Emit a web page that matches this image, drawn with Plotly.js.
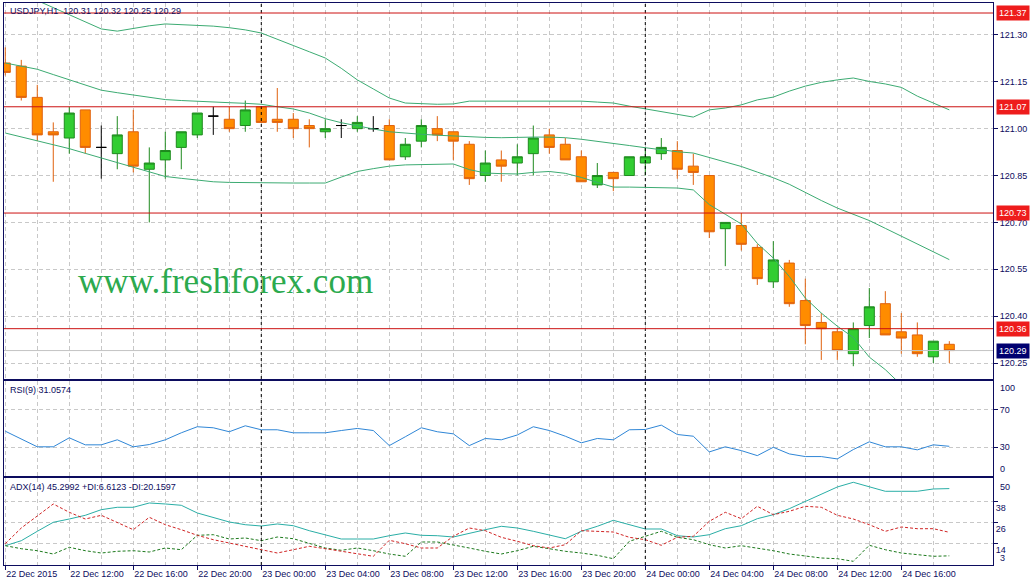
<!DOCTYPE html>
<html>
<head>
<meta charset="utf-8">
<script src="https://cdn.plot.ly/plotly-3.0.1.min.js"></script>
<style>
  html, body { margin: 0; padding: 0; background: #ffffff; }
  #plotly { width: 1035px; height: 581px; }
</style>
</head>
<body>
<div id="plotly"></div>
<script>
// USDJPY H1, one value per hourly bar (22 Dec 08:00 .. 24 Dec 19:00)
var symbol = 'USDJPY,H1';
var openData  = [121.21, 121.20, 121.10, 120.99, 120.97, 121.06, 120.94, 120.92, 120.99, 120.87,
                 120.90, 120.94, 120.98, 121.04, 121.03, 121.01, 121.07, 121.03, 121.03, 121.01,
                 120.99, 121.01, 121.00, 121.00, 121.01, 120.91, 120.96, 121.00, 120.99, 120.95,
                 120.85, 120.90, 120.89, 120.92, 120.98, 120.95, 120.91, 120.82, 120.86, 120.85,
                 120.89, 120.92, 120.93, 120.88, 120.85, 120.68, 120.69, 120.62, 120.51, 120.57,
                 120.45, 120.38, 120.35, 120.28, 120.37, 120.44, 120.35, 120.34, 120.27, 120.31];
var highData  = [121.26, 121.22, 121.14, 121.02, 121.07, 121.06, 121.01, 121.04, 121.06, 120.94,
                 120.99, 120.99, 121.05, 121.07, 121.07, 121.09, 121.07, 121.13, 121.05, 121.03,
                 121.03, 121.03, 121.04, 121.04, 121.03, 120.97, 121.03, 121.04, 120.99, 120.96,
                 120.93, 120.93, 120.95, 121.01, 121.00, 120.97, 120.93, 120.89, 120.86, 120.91,
                 120.94, 120.97, 120.96, 120.92, 120.85, 120.70, 120.73, 120.63, 120.64, 120.58,
                 120.52, 120.41, 120.36, 120.38, 120.49, 120.48, 120.41, 120.38, 120.32, 120.32];
var lowData   = [121.17, 121.09, 120.96, 120.83, 120.92, 120.92, 120.84, 120.87, 120.86, 120.70,
                 120.84, 120.87, 120.97, 120.98, 120.99, 120.99, 121.02, 120.99, 120.97, 120.94,
                 120.97, 120.97, 120.99, 120.99, 120.90, 120.90, 120.94, 120.96, 120.90, 120.82,
                 120.83, 120.83, 120.85, 120.85, 120.92, 120.90, 120.83, 120.81, 120.80, 120.85,
                 120.85, 120.90, 120.84, 120.82, 120.65, 120.56, 120.61, 120.50, 120.49, 120.43,
                 120.31, 120.26, 120.26, 120.24, 120.33, 120.34, 120.28, 120.27, 120.25, 120.25];
var closeData = [121.18, 121.10, 120.98, 120.98, 121.05, 120.94, 120.94, 120.98, 120.88, 120.89,
                 120.93, 120.99, 121.05, 121.04, 121.00, 121.06, 121.02, 121.02, 121.00, 121.00,
                 121.00, 121.01, 121.02, 121.00, 120.90, 120.95, 121.01, 120.98, 120.96, 120.84,
                 120.89, 120.88, 120.91, 120.97, 120.94, 120.90, 120.83, 120.85, 120.84, 120.91,
                 120.91, 120.94, 120.87, 120.86, 120.67, 120.70, 120.63, 120.52, 120.58, 120.44,
                 120.37, 120.36, 120.29, 120.36, 120.43, 120.34, 120.33, 120.28, 120.32, 120.29];

// Bollinger bands
var bbUpper  = [121.460, 121.430, 121.410, 121.387, 121.364, 121.340, 121.319, 121.312, 121.321, 121.329,
                121.335, 121.333, 121.332, 121.328, 121.323, 121.316, 121.306, 121.285, 121.266, 121.246,
                121.226, 121.193, 121.156, 121.127, 121.098, 121.082, 121.080, 121.078, 121.079, 121.088,
                121.088, 121.088, 121.088, 121.088, 121.088, 121.088, 121.088, 121.085, 121.082, 121.072,
                121.063, 121.053, 121.045, 121.037, 121.060, 121.066, 121.076, 121.092, 121.101, 121.120,
                121.136, 121.148, 121.156, 121.162, 121.151, 121.143, 121.132, 121.104, 121.082, 121.060];
var bbMiddle = [121.210, 121.201, 121.190, 121.173, 121.156, 121.139, 121.123, 121.115, 121.108, 121.100,
                121.093, 121.090, 121.087, 121.085, 121.083, 121.081, 121.078, 121.070, 121.063, 121.050,
                121.032, 121.019, 121.008, 120.999, 120.990, 120.985, 120.982, 120.979, 120.976, 120.974,
                120.972, 120.971, 120.973, 120.973, 120.973, 120.971, 120.966, 120.960, 120.954, 120.946,
                120.939, 120.932, 120.926, 120.922, 120.908, 120.894, 120.879, 120.861, 120.843, 120.822,
                120.795, 120.770, 120.746, 120.725, 120.706, 120.681, 120.656, 120.631, 120.606, 120.581];
var bbLower  = [120.986, 120.974, 120.961, 120.949, 120.936, 120.921, 120.906, 120.891, 120.877, 120.862,
                120.847, 120.841, 120.836, 120.830, 120.828, 120.827, 120.826, 120.826, 120.826, 120.826,
                120.826, 120.845, 120.863, 120.872, 120.880, 120.884, 120.885, 120.886, 120.887, 120.869,
                120.858, 120.856, 120.855, 120.860, 120.863, 120.857, 120.844, 120.828, 120.813, 120.813,
                120.812, 120.811, 120.810, 120.804, 120.757, 120.726, 120.695, 120.633, 120.586, 120.527,
                120.458, 120.410, 120.368, 120.332, 120.269, 120.229, 120.180, 120.158, 120.130, 120.102];

// RSI(9)
var rsiData = [47.0, 38.9, 30.5, 30.5, 40.0, 32.6, 32.6, 37.9, 30.5, 32.9,
               37.9, 45.3, 51.7, 50.6, 46.4, 52.7, 48.5, 48.5, 45.3, 45.3,
               45.3, 47.7, 49.9, 47.7, 31.8, 41.1, 50.6, 46.4, 44.2, 31.8,
               39.3, 37.9, 43.0, 51.7, 47.7, 41.7, 34.7, 39.3, 37.9, 48.5,
               48.8, 53.4, 43.5, 41.7, 25.1, 30.5, 26.5, 21.2, 30.0, 23.0,
               20.2, 20.2, 17.7, 27.6, 35.8, 30.5, 30.5, 27.3, 32.6, 31.0574];

// ADX(14) with +DI / -DI
var adxData = [12.45, 15.32, 20.73, 25.91, 27.81, 29.94, 33.17, 34.55, 34.55, 37.02,
               36.45, 35.70, 31.27, 28.79, 26.09, 24.53, 23.78, 24.94, 23.96, 21.08,
               18.78, 16.30, 16.30, 16.30, 18.20, 19.76, 18.43, 18.20, 17.45, 19.76,
               21.65, 23.61, 22.63, 20.73, 18.43, 16.47, 20.73, 23.61, 27.06, 24.53,
               22.06, 22.06, 18.20, 17.45, 18.78, 22.23, 23.96, 27.99, 30.29, 33.74,
               38.00, 42.20, 46.23, 48.94, 46.23, 43.76, 43.76, 43.76, 45.08, 45.2992];
var plusDI  = [12.45, 10.72, 9.57, 7.67, 11.53, 9.57, 8.24, 9.22, 9.57, 8.82,
               11.12, 10.14, 18.43, 18.78, 16.30, 16.88, 15.32, 17.45, 16.47, 14.00,
               11.12, 9.80, 11.12, 9.57, 7.67, 6.35, 14.58, 14.58, 13.02, 11.12,
               9.22, 7.67, 9.57, 12.10, 10.72, 9.22, 8.24, 6.92, 4.96, 14.98,
               17.86, 20.73, 17.28, 15.90, 13.02, 11.12, 12.45, 11.12, 9.57, 7.67,
               6.35, 5.37, 4.96, 3.47, 12.68, 10.14, 8.24, 7.27, 6.35, 6.6123];
var minusDI = [13.60, 22.63, 29.54, 36.45, 31.67, 27.81, 29.94, 25.91, 21.65, 28.79,
               24.53, 21.65, 18.43, 15.90, 14.00, 12.10, 10.14, 8.24, 10.14, 12.10,
               10.72, 9.22, 7.67, 6.35, 15.55, 13.60, 11.12, 11.12, 17.86, 22.63,
               21.08, 17.28, 14.98, 12.45, 11.12, 13.02, 21.08, 20.73, 20.33, 17.28,
               15.90, 12.68, 17.28, 17.86, 26.49, 31.67, 27.99, 35.12, 30.29, 32.24,
               35.12, 34.55, 29.94, 27.81, 24.53, 20.73, 23.21, 22.23, 22.23, 20.1597];

// time axis labels (bar index -> label)
var xTickBars = [0, 4, 8, 12, 16, 20, 24, 28, 32, 36, 40, 44, 48, 52, 56];
var xTickText = ['22 Dec 2015', '22 Dec 12:00', '22 Dec 16:00', '22 Dec 20:00', '23 Dec 00:00',
                 '23 Dec 04:00', '23 Dec 08:00', '23 Dec 12:00', '23 Dec 16:00', '23 Dec 20:00',
                 '24 Dec 00:00', '24 Dec 04:00', '24 Dec 08:00', '24 Dec 12:00', '24 Dec 16:00'];

// horizontal lines drawn on the chart
var levelPrices = [121.37, 121.07, 120.73, 120.36];
var watermark = 'www.freshforex.com';

var navy = '#0c0c5e';
var gridColor = '#c8c8c8';
var axisFont = {family: 'Liberation Sans, Arial, sans-serif', size: 9, color: navy};

var n = closeData.length;
var bars = [];
for (var i = 0; i < n; i++) bars.push(i);

function pick(arr, idx) {
  return idx.map(function(k) { return arr[k]; });
}

// bars with open == close are drawn black (doji), the rest orange / green
var dojiIdx = bars.filter(function(k) { return openData[k] === closeData[k]; });
var bodyIdx = bars.filter(function(k) { return openData[k] !== closeData[k]; });

var candleTrace = {
  type: 'candlestick',
  x: bodyIdx,
  open: pick(openData, bodyIdx),
  high: pick(highData, bodyIdx),
  low: pick(lowData, bodyIdx),
  close: pick(closeData, bodyIdx),
  increasing: {line: {color: '#1f8a1f', width: 1}, fillcolor: '#32cd32'},
  decreasing: {line: {color: '#e0620e', width: 1}, fillcolor: '#ff8c00'},
  hoverinfo: 'none',
  xaxis: 'x', yaxis: 'y'
};
var dojiTrace = {
  type: 'candlestick',
  x: dojiIdx,
  open: pick(openData, dojiIdx),
  high: pick(highData, dojiIdx),
  low: pick(lowData, dojiIdx),
  close: pick(closeData, dojiIdx),
  increasing: {line: {color: '#000000', width: 1}, fillcolor: '#000000'},
  decreasing: {line: {color: '#000000', width: 1}, fillcolor: '#000000'},
  hoverinfo: 'none',
  xaxis: 'x', yaxis: 'y'
};

function lineTrace(y, color, dash, xa, ya) {
  return {
    type: 'scatter', mode: 'lines', x: bars, y: y,
    line: {color: color, width: 1, dash: dash || 'solid'},
    hoverinfo: 'none', xaxis: xa, yaxis: ya
  };
}

var data = [
  candleTrace, dojiTrace,
  lineTrace(bbUpper, '#3cab72', null, 'x', 'y'),
  lineTrace(bbMiddle, '#3cab72', null, 'x', 'y'),
  lineTrace(bbLower, '#3cab72', null, 'x', 'y'),
  lineTrace(rsiData, '#2f86d6', null, 'x2', 'y2'),
  lineTrace(adxData, '#2aaea6', null, 'x3', 'y3'),
  lineTrace(plusDI, '#1d7a1d', '3px,2px', 'x3', 'y3'),
  lineTrace(minusDI, '#d02525', '3px,2px', 'x3', 'y3')
];

// grid every 2 bars, labels every 4 bars
var minorBars = [];
for (var m = 2; m <= 60; m += 4) minorBars.push(m);

function xAxis(anchor, showLabels) {
  return {
    anchor: anchor,
    range: [-0.08, 61.73],
    showline: true, mirror: true, linecolor: navy, linewidth: 1,
    tickmode: 'array', tickvals: xTickBars, ticktext: xTickText,
    showticklabels: showLabels,
    ticks: showLabels ? 'outside' : '', ticklen: 4, tickcolor: navy,
    ticklabelposition: 'outside right',
    tickfont: axisFont,
    showgrid: true, gridcolor: gridColor, griddash: '4px,3px', gridwidth: 1,
    minor: {tickmode: 'array', tickvals: minorBars, showgrid: true,
            gridcolor: gridColor, griddash: '4px,3px', ticks: ''},
    zeroline: false, fixedrange: true,
    rangeslider: {visible: false}
  };
}

function yAxis(anchor, domain, extra) {
  var ax = {
    anchor: anchor, domain: domain, side: 'right',
    showline: true, mirror: true, linecolor: navy, linewidth: 1,
    ticks: 'outside', ticklen: 4, tickcolor: navy,
    tickfont: axisFont,
    showgrid: true, gridcolor: gridColor, griddash: '4px,3px', gridwidth: 1,
    zeroline: false, fixedrange: true
  };
  for (var key in extra) ax[key] = extra[key];
  return ax;
}

var lastBar = n - 1;
var lastPrice = closeData[lastBar];

var shapes = [];
var annotations = [];

// day separators at midnight
xTickText.forEach(function(t, k) {
  if (t.indexOf('00:00') !== -1) {
    shapes.push({type: 'line', xref: 'x', yref: 'paper', x0: xTickBars[k], x1: xTickBars[k], y0: 0, y1: 1,
                 line: {color: '#000000', width: 1, dash: '3px,3px'}});
  }
});

// current price line
shapes.push({type: 'line', xref: 'paper', yref: 'y', x0: 0, x1: 1, y0: lastPrice, y1: lastPrice,
             line: {color: '#c4c4c4', width: 1}});

// red level lines with their price tags
levelPrices.forEach(function(p) {
  shapes.push({type: 'line', xref: 'paper', yref: 'y', x0: 0, x1: 1, y0: p, y1: p,
               line: {color: '#cc1111', width: 1}});
  annotations.push({xref: 'paper', yref: 'y', x: 1, y: p, xanchor: 'left', yanchor: 'middle',
                    xshift: 3, text: p.toFixed(2), showarrow: false, bgcolor: '#ee1c1c', borderpad: 2,
                    font: {family: axisFont.family, size: 9, color: '#ffffff'}});
});
annotations.push({xref: 'paper', yref: 'y', x: 1, y: lastPrice, xanchor: 'left', yanchor: 'middle',
                  xshift: 3, text: lastPrice.toFixed(2), showarrow: false, bgcolor: '#000070', borderpad: 2,
                  font: {family: axisFont.family, size: 9, color: '#ffffff'}});

// panel captions
annotations.push({xref: 'paper', yref: 'paper', x: 0.004, y: 0.9858, xanchor: 'left', yanchor: 'middle',
                  showarrow: false, font: axisFont,
                  text: symbol + '  ' + openData[lastBar].toFixed(2) + ' ' + highData[lastBar].toFixed(2) + ' ' +
                        lowData[lastBar].toFixed(2) + ' ' + closeData[lastBar].toFixed(2)});
annotations.push({xref: 'paper', yref: 'paper', x: 0.004, y: 0.3114, xanchor: 'left', yanchor: 'middle',
                  showarrow: false, font: axisFont,
                  text: 'RSI(9) ' + rsiData[lastBar].toFixed(4)});
annotations.push({xref: 'paper', yref: 'paper', x: 0.004, y: 0.1388, xanchor: 'left', yanchor: 'middle',
                  showarrow: false, font: axisFont,
                  text: 'ADX(14) ' + adxData[lastBar].toFixed(4) + ' +DI:' + plusDI[lastBar].toFixed(4) +
                        ' -DI:' + minusDI[lastBar].toFixed(4)});

// scale end labels that sit inside the sub-windows
annotations.push({xref: 'paper', yref: 'y2', x: 1, y: 100, xanchor: 'left', yanchor: 'top', xshift: 5,
                  text: '100', showarrow: false, font: axisFont});
annotations.push({xref: 'paper', yref: 'y2', x: 1, y: 0, xanchor: 'left', yanchor: 'bottom', xshift: 5,
                  text: '0', showarrow: false, font: axisFont});
annotations.push({xref: 'paper', yref: 'y3', x: 1, y: 50, xanchor: 'left', yanchor: 'top', xshift: 5,
                  text: '50', showarrow: false, font: axisFont});
annotations.push({xref: 'paper', yref: 'y3', x: 1, y: 3, xanchor: 'left', yanchor: 'middle', xshift: 5, yshift: 4,
                  text: '3', showarrow: false, font: axisFont});

// watermark
annotations.push({xref: 'paper', yref: 'paper', x: 0.224, y: 0.5036, xanchor: 'center', yanchor: 'middle',
                  text: watermark, showarrow: false,
                  font: {family: 'Liberation Serif, Times New Roman, serif', size: 35, color: '#2caa4e'}});

var layout = {
  width: 1035, height: 581,
  margin: {l: 4, r: 42, t: 3, b: 16},
  paper_bgcolor: '#ffffff', plot_bgcolor: '#ffffff',
  showlegend: false, hovermode: false, dragmode: false,
  boxgap: 0.375, boxgroupgap: 0,
  xaxis: xAxis('y', false),
  xaxis2: xAxis('y2', false),
  xaxis3: xAxis('y3', true),
  yaxis: yAxis('x', [0.3304, 1], {range: [120.198, 121.402], tickmode: 'linear', tick0: 120.25, dtick: 0.15,
                                   tickformat: '.2f'}),
  yaxis2: yAxis('x2', [0.1589, 0.3274], {range: [0, 100], tickmode: 'array', tickvals: [30, 70]}),
  yaxis3: yAxis('x3', [0, 0.1543], {range: [1.34, 51.24], tickmode: 'array', tickvals: [14, 26, 38],
                                    ticklabelposition: 'outside bottom'}),
  shapes: shapes,
  annotations: annotations
};

Plotly.newPlot('plotly', data, layout, {displayModeBar: false, staticPlot: true});
</script>
</body>
</html>
